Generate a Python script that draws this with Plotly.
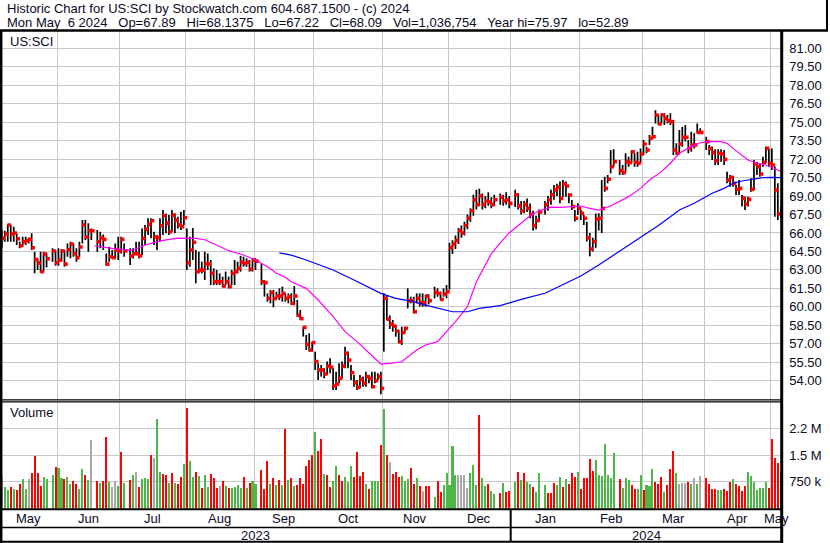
import numpy as np
import pandas as pd
import plotly.graph_objects as go

W, H = 830, 543

# trading calendar (weekday slots; holidays leave an empty slot)
START = "2023-05-05"
END = "2024-05-06"
HOLIDAYS = ["2023-05-29", "2023-06-19", "2023-07-04", "2023-09-04", "2023-11-23",
            "2023-12-25", "2024-01-01", "2024-01-15", "2024-02-19", "2024-03-29"]

HIGH = [
    66.24, 66.18, 66.70, 66.64, 66.51, 65.97, 65.29, 65.70, 65.70, 65.61,
    65.97, 64.48, 63.94, 64.48, 64.48, 64.40, 64.75, 64.61, 64.75, 64.69,
    64.61, 65.15, 65.29, 65.15, 64.75, 65.29, 67.05, 67.05, 66.78, 66.37,
    66.24, 66.10, 65.88, 64.34, 64.88, 64.61, 65.15, 65.70, 65.70, 65.15,
    64.75, 64.75, 65.29, 65.29, 66.37, 66.64, 67.19, 67.19, 66.10, 65.83,
    67.19, 67.86, 67.59, 67.45, 67.86, 67.59, 67.32, 67.73, 67.86, 66.37,
    65.70, 66.40, 64.62, 64.48, 63.67, 64.48, 64.34, 63.80, 63.13, 62.99,
    62.72, 62.45, 62.86, 62.45, 62.99, 63.80, 63.67, 64.13, 64.07, 63.94,
    63.80, 63.94, 63.94, 63.53, 62.18, 61.09, 61.37, 61.37, 61.23, 61.50,
    61.64, 61.09, 61.09, 61.10, 61.69, 60.56, 59.74, 58.39, 57.71, 57.85,
    57.17, 56.36, 55.41, 55.27, 55.00, 55.55, 55.82, 55.00, 54.73, 55.41,
    55.55, 56.76, 56.36, 55.27, 54.46, 54.06, 54.46, 54.33, 54.73, 54.46,
    54.73, 54.73, 54.60, 54.73, 61.10, 60.96, 59.30, 58.93, 58.52, 58.11,
    58.38, 58.38, 61.50, 60.82, 60.82, 61.09, 61.09, 61.09, 60.96, 61.00,
    61.63, 61.50, 61.23, 61.50, 61.77, 65.20, 65.40, 65.80, 66.40, 66.60,
    66.90, 67.50, 68.00, 69.10, 69.50, 69.60, 69.20, 69.00, 69.30, 68.90,
    69.10, 69.20, 69.10, 69.30, 69.00, 69.50, 69.20, 68.60, 68.60, 68.80,
    68.40, 67.80, 67.40, 67.90, 68.60, 69.00, 69.50, 69.90, 70.00, 70.17,
    70.30, 70.17, 69.22, 68.68, 67.86, 68.41, 67.86, 67.46, 66.90, 66.00,
    65.60, 67.59, 67.60, 70.30, 70.57, 70.71, 72.74, 72.79, 71.93, 71.52,
    72.47, 72.20, 72.74, 72.47, 72.60, 72.87, 73.55, 73.01, 73.96, 74.63,
    75.97, 75.58, 75.72, 75.72, 75.58, 75.72, 75.18, 73.28, 74.36, 74.63,
    74.77, 73.55, 74.23, 74.09, 74.90, 74.50, 73.82, 73.14, 73.01, 72.79,
    72.79, 72.79, 72.74, 70.98, 70.71, 70.63, 69.90, 70.30, 69.08, 68.95,
    68.95, 70.44, 71.93, 71.79, 71.66, 72.20, 73.01, 72.87, 72.87, 71.38,
    70.03, 68.14,
]
LOW = [
    64.75, 65.29, 65.29, 65.29, 65.29, 65.02, 64.75, 64.88, 65.02, 65.15,
    64.61, 62.72, 62.99, 62.80, 62.85, 63.20, 63.66, 63.34, 63.34, 63.66,
    63.26, 64.07, 63.94, 64.07, 63.66, 64.07, 65.15, 65.42, 64.48, 65.42,
    64.48, 64.75, 64.61, 63.34, 63.66, 63.93, 63.93, 63.80, 64.34, 64.07,
    63.39, 63.93, 64.21, 63.93, 64.21, 65.02, 65.83, 65.56, 65.02, 64.61,
    65.29, 65.83, 65.97, 65.83, 66.10, 65.97, 66.37, 66.24, 66.64, 62.99,
    63.26, 63.80, 61.91, 62.72, 62.72, 62.18, 62.99, 61.77, 61.77, 61.77,
    61.77, 61.58, 61.77, 61.50, 61.77, 61.77, 62.72, 62.86, 63.26, 63.26,
    62.86, 62.86, 62.99, 61.77, 60.83, 60.42, 60.28, 59.96, 60.61, 60.55,
    60.42, 60.42, 60.28, 60.15, 60.15, 59.20, 58.93, 57.58, 56.49, 56.36,
    56.36, 54.87, 54.06, 54.33, 54.19, 54.46, 54.60, 53.25, 53.25, 53.79,
    54.19, 55.00, 55.00, 54.06, 53.51, 53.25, 53.38, 53.51, 53.51, 53.79,
    53.38, 53.79, 54.06, 52.89, 56.36, 58.93, 58.20, 57.98, 57.57, 57.03,
    56.90, 57.84, 59.87, 60.28, 59.47, 60.28, 60.01, 60.01, 60.01, 60.20,
    60.69, 60.82, 60.55, 60.82, 60.69, 61.40, 64.30, 64.70, 65.10, 65.60,
    65.80, 66.30, 66.90, 67.40, 67.90, 68.20, 67.90, 68.00, 68.20, 68.00,
    68.20, 68.30, 68.20, 68.30, 68.00, 68.10, 67.90, 67.50, 67.60, 67.70,
    67.20, 66.20, 66.30, 66.90, 67.50, 67.80, 68.30, 68.70, 69.00, 68.41,
    68.95, 68.95, 68.41, 67.86, 66.92, 67.46, 67.05, 66.65, 65.30, 64.10,
    64.50, 64.80, 66.20, 66.00, 69.35, 70.03, 70.84, 71.38, 70.71, 70.71,
    70.98, 71.38, 71.66, 71.38, 71.38, 71.66, 72.33, 72.47, 73.14, 73.69,
    74.90, 74.77, 74.90, 74.77, 74.90, 74.77, 72.33, 72.33, 72.47, 73.01,
    73.42, 72.47, 72.60, 72.87, 74.09, 74.09, 72.74, 72.33, 71.93, 71.52,
    71.52, 71.79, 71.52, 70.03, 69.76, 69.76, 69.08, 69.08, 68.14, 67.86,
    68.14, 69.35, 69.49, 70.71, 70.57, 71.38, 71.66, 71.38, 71.11, 67.32,
    67.05, 67.22,
]
CLOSE = [
    65.56, 65.91, 66.64, 65.91, 65.99, 65.53, 64.96, 65.29, 65.37, 65.48,
    64.80, 63.85, 63.56, 62.85, 64.29, 63.90, 64.53, 63.58, 63.80, 64.53,
    63.47, 64.64, 65.10, 64.31, 63.99, 64.86, 66.64, 65.67, 66.18, 66.18,
    65.29, 65.61, 65.48, 63.47, 64.07, 63.99, 64.61, 64.53, 65.48, 64.53,
    64.13, 64.31, 64.31, 64.15, 65.56, 66.29, 66.70, 66.99, 65.67, 65.61,
    66.59, 67.40, 66.80, 66.10, 67.45, 67.02, 66.64, 66.51, 67.24, 63.58,
    64.62, 65.24, 62.86, 62.99, 62.99, 63.48, 63.48, 62.72, 62.04, 62.04,
    62.04, 61.69, 62.04, 61.64, 62.72, 62.86, 63.13, 63.61, 63.53, 63.61,
    63.05, 63.80, 63.70, 62.04, 61.96, 60.69, 61.15, 60.66, 60.88, 60.88,
    61.09, 60.69, 60.82, 60.28, 60.88, 59.31, 59.04, 58.33, 56.95, 56.49,
    57.09, 55.55, 54.87, 54.87, 54.54, 55.19, 55.09, 53.57, 53.73, 54.19,
    55.19, 56.22, 55.68, 54.65, 53.84, 53.46, 54.11, 53.79, 54.33, 54.19,
    53.51, 54.00, 54.33, 53.38, 60.69, 58.99, 58.60, 58.44, 58.03, 57.17,
    57.90, 58.25, 60.50, 60.50, 59.60, 60.69, 60.33, 60.33, 60.88, 60.50,
    61.17, 61.09, 60.60, 61.04, 61.23, 64.80, 65.10, 65.40, 66.20, 66.00,
    66.60, 67.20, 67.80, 68.70, 68.30, 69.00, 68.30, 68.60, 68.50, 68.30,
    68.70, 68.90, 68.60, 68.70, 68.40, 69.10, 68.20, 67.80, 68.30, 68.00,
    67.50, 66.60, 67.00, 67.70, 68.30, 68.70, 69.10, 69.50, 69.70, 68.81,
    69.98, 69.81, 69.08, 68.14, 67.19, 68.00, 67.59, 67.19, 65.60, 64.70,
    65.30, 67.13, 67.19, 68.00, 69.62, 70.36, 71.38, 71.79, 71.06, 70.90,
    71.79, 71.71, 72.60, 71.74, 71.66, 72.41, 73.23, 72.74, 73.69, 73.82,
    75.58, 74.85, 75.58, 75.31, 75.12, 75.04, 72.74, 72.47, 73.23, 73.77,
    73.77, 72.87, 73.14, 73.14, 74.17, 74.17, 73.42, 72.87, 72.52, 71.87,
    72.47, 72.41, 71.98, 70.30, 70.52, 70.03, 69.54, 69.62, 68.81, 68.35,
    68.73, 69.54, 71.60, 71.38, 70.79, 71.74, 72.87, 71.66, 71.52, 69.49,
    67.54, 68.09,
]

# daily volume in thousands of shares
VOLUME_K = [
    886, 606, 513, 606, 550, 513, 690, 830, 550, 830,
    998, 1474, 998, 644, 886, 821, 942, 1166, 1148, 858,
    830, 886, 690, 774, 690, 550, 1110, 942, 802, 1922,
    774, 718, 774, 2006, 746, 606, 774, 634, 1586, 718,
    802, 942, 1026, 606, 830, 858, 830, 1502, 1418, 2510,
    1026, 970, 942, 718, 998, 718, 690, 886, 1250, 2818,
    1334, 886, 1026, 914, 578, 942, 606, 970, 858, 578,
    634, 774, 634, 578, 578, 606, 662, 578, 886, 578,
    718, 774, 700, 1082, 550, 1334, 690, 858, 662, 802,
    662, 2230, 802, 858, 634, 662, 858, 690, 1194, 1362,
    1502, 2146, 1614, 1950, 970, 942, 606, 774, 1194, 942,
    774, 886, 746, 1194, 886, 1586, 914, 1026, 690, 550,
    774, 774, 774, 1782, 2790, 1502, 1306, 970, 1026, 886,
    914, 774, 830, 1138, 690, 858, 634, 494, 634, 634,
    327, 774, 467, 662, 998, 662, 1754, 942, 942, 942,
    942, 578, 998, 1222, 662, 2622, 858, 634, 690, 494,
    410, 438, 718, 467, 494, 746, 1026, 802, 998, 746,
    690, 606, 467, 998, 662, 438, 438, 718, 662, 886,
    606, 840, 690, 998, 886, 1026, 550, 858, 858, 1390,
    1054, 1372, 942, 914, 1810, 942, 858, 1558, 830, 578,
    858, 802, 662, 550, 550, 942, 522, 662, 625, 1110,
    746, 690, 886, 467, 662, 1110, 1614, 989, 690, 718,
    718, 746, 690, 858, 700, 914, 858, 690, 550, 550,
    522, 522, 550, 494, 746, 830, 690, 634, 494, 634,
    1026, 914, 746, 522, 578, 578, 746, 578, 1950, 1418,
    1278, 1037,
]
# volume bar colour per day: g up, r down, n unchanged
VOL_DIR = "".join([
    "nggrgrrggnrrrrgg",
    "grggrggrrggrgn",
    "rgrrgnngrg",
    "rgnrgggrnggrrgrgrrgrggrgrggrrrnrgrggggrgrgg",
    "rrrgrgrgrgrgrrrrrrgrrgrrggrrgggrrrrgrgggrgrnrrrgggrrgrnrr",
    "grrgggggnnnngggrggrgg",
    "rgrr",
    "grgrggrgg",
    "grrrggrgrrrgrrrrrggggggg",
    "rgggrrggrgggrrrgrrrgnnnrgngn",
    "rrrrggrrrgrrrrgggggggrrrrg",
])

# moving averages (weekday slot, value)
PINK_DAY = [31, 38, 44, 48, 53, 59, 65, 68, 72, 76, 81, 85, 89, 92, 95, 97, 102, 106,
            111, 115, 119, 124, 127, 130, 134, 139, 142, 146, 149, 152, 156, 159, 164,
            167, 170, 174, 177, 180, 184, 187, 190, 194, 197, 200, 204, 207, 210, 214,
            217, 221, 224, 227, 231, 234, 237, 241, 243, 245, 247, 250, 253, 256, 260, 261]
PINK_VAL = [64.96, 64.70, 64.60, 65.02, 65.35, 65.58, 65.56, 65.45, 65.02, 64.56, 64.21,
            63.80, 63.26, 62.72, 62.40, 62.04, 61.50, 60.55, 59.20, 57.98, 57.17, 56.08,
            55.35, 55.41, 55.54, 56.49, 56.90, 57.17, 57.98, 58.79, 60.01, 62.04, 64.30,
            65.20, 66.00, 66.80, 67.40, 67.80, 68.10, 68.08, 68.14, 68.19, 68.00, 67.86,
            68.19, 68.54, 68.95, 69.62, 70.30, 70.98, 71.66, 72.47, 73.01, 73.33, 73.42,
            73.42, 73.28, 72.87, 72.47, 71.93, 71.66, 71.52, 71.11, 70.98]
BLUE_DAY = [93, 97, 102, 111, 118, 127, 132, 138, 142, 147, 151, 156, 160, 167, 174,
            182, 187, 194, 200, 207, 214, 220, 224, 227, 232, 235, 238, 242, 245, 248,
            252, 255, 258, 261]
BLUE_VAL = [64.38, 64.20, 63.80, 62.99, 62.18, 61.09, 60.69, 60.42, 60.14, 59.87, 59.60,
            59.60, 59.87, 60.10, 60.60, 61.10, 61.70, 62.50, 63.40, 64.50, 65.60, 66.60,
            67.32, 67.86, 68.41, 68.81, 69.22, 69.62, 70.03, 70.22, 70.36, 70.49, 70.52,
            70.49]

MONTH_STARTS = ["2023-06-01", "2023-07-01", "2023-08-01", "2023-09-01", "2023-10-01",
                "2023-11-01", "2023-12-01", "2024-01-01", "2024-02-01", "2024-03-01",
                "2024-04-01", "2024-05-01"]
MONTH_NAMES = ["May", "Jun", "Jul", "Aug", "Sep", "Oct", "Nov", "Dec",
               "Jan", "Feb", "Mar", "Apr", "May"]
YEARS = ["2023", "2024"]

VOL_TICKS = [750000, 1500000, 2250000]
VOL_TICK_TEXT = ["750 k", "1.5 M", "2.2 M"]

NB = "\u00a0"
HEADER_1 = "Historic Chart for US:SCI by Stockwatch.com 604.687.1500 - (c) 2024"
HEADER_2 = (NB * 3).join(["Mon May" + NB * 2 + "6 2024", "Op=67.89", "Hi=68.1375",
                          "Lo=67.22", "Cl=68.09", "Vol=1,036,754", "Year hi=75.97",
                          "lo=52.89"])

FONT = "Liberation Sans, Arial, sans-serif"
TXT = "#0a0a1e"
GRID = "#c8c8c8"
RED = "#ff0000"
GREEN = "#4cb848"
GRAY = "#a8a8a8"

assert len(HIGH) == len(LOW) == len(CLOSE) == len(VOLUME_K) == len(VOL_DIR) == 252


def px(x):
    return x / W


def py(y):
    return 1 - y / H


weekdays = pd.bdate_range(START, END)
trading = weekdays[~weekdays.isin(pd.to_datetime(HOLIDAYS))]
slot = weekdays.get_indexer(trading)

x0, x1 = -0.6, len(weekdays) - 1 + 0.6
edges = [np.busday_count(START, np.datetime64(d) + 1) - 1.5 for d in MONTH_STARTS]
bounds = [x0] + edges + [x1]
month_mid = [(a + b) / 2 for a, b in zip(bounds[:-1], bounds[1:])]
jan_edge = edges[MONTH_STARTS.index("2024-01-01")]
year_mid = [(x0 + jan_edge) / 2, (jan_edge + x1) / 2]

# high-low bars as one broken line
bar_x, bar_y = [], []
for s, hi, lo in zip(slot, HIGH, LOW):
    bar_x += [s, s, None]
    bar_y += [lo, hi, None]

vol_colors = [{"g": GREEN, "r": RED, "n": GRAY}[c] for c in VOL_DIR]
vol = [v * 1000 for v in VOLUME_K]

fig = go.Figure()

fig.add_trace(go.Scatter(
    x=bar_x, y=bar_y, mode="lines",
    line=dict(color="black", width=1.7),
    hoverinfo="skip", showlegend=False
))
fig.add_trace(go.Scatter(
    x=slot + 0.5, y=CLOSE, mode="markers",
    marker=dict(symbol="square", size=3.6, color=RED, line=dict(width=0)),
    showlegend=False
))
fig.add_trace(go.Scatter(
    x=PINK_DAY, y=PINK_VAL, mode="lines",
    line=dict(color="#ff00ff", width=1.2), showlegend=False
))
fig.add_trace(go.Scatter(
    x=BLUE_DAY, y=BLUE_VAL, mode="lines",
    line=dict(color="#0000ff", width=1.2), showlegend=False
))
fig.add_trace(go.Bar(
    x=slot, y=vol, width=0.68,
    marker=dict(color=vol_colors, line=dict(width=0)),
    xaxis="x2", yaxis="y2", showlegend=False
))

x_dom = [0, px(782.6)]
axis_font = dict(family=FONT, size=13, color=TXT)

fig.update_layout(
    width=W, height=H,
    margin=dict(l=0, r=0, t=0, b=0),
    paper_bgcolor="white",
    plot_bgcolor="white",
    bargap=0,
    xaxis=dict(
        domain=x_dom, range=[x0, x1], anchor="y",
        tickvals=edges, showticklabels=False, ticks="",
        showgrid=True, gridcolor=GRID, gridwidth=1.2,
        zeroline=False, showline=False
    ),
    yaxis=dict(
        domain=[py(400), py(31)], range=[52.43, 82.405], side="right",
        tickvals=list(np.arange(54, 81.01, 1.5)),
        ticktext=[f"{v:.2f}" for v in np.arange(54, 81.01, 1.5)],
        ticks="outside", ticklen=3, tickcolor="rgba(0,0,0,0)",
        showgrid=True, gridcolor=GRID, gridwidth=1.2,
        zeroline=False, showline=False, tickfont=axis_font
    ),
    xaxis2=dict(
        domain=x_dom, range=[x0, x1], anchor="y2", matches="x",
        tickvals=edges, showticklabels=False, ticks="",
        showgrid=True, gridcolor=GRID, gridwidth=1.2,
        zeroline=False, showline=False
    ),
    yaxis2=dict(
        domain=[py(508.5), py(402)], range=[0, 3.0e6], side="right",
        tickvals=VOL_TICKS, ticktext=VOL_TICK_TEXT,
        ticks="outside", ticklen=3, tickcolor="rgba(0,0,0,0)",
        showgrid=True, gridcolor=GRID, gridwidth=1.2,
        zeroline=False, showline=False, tickfont=axis_font
    ),
)

text_font = dict(family=FONT, size=13, color=TXT)
notes = [
    dict(x=px(5), y=py(8.5), text=HEADER_1),
    dict(x=px(5), y=py(22), text=HEADER_2),
    dict(x=px(8), y=py(41), text="US:SCI"),
    dict(x=px(8), y=py(413), text="Volume"),
]
for n in notes:
    fig.add_annotation(xref="paper", yref="paper", xanchor="left", yanchor="middle",
                       showarrow=False, font=text_font, **n)

for m, name in zip(month_mid, MONTH_NAMES):
    fig.add_annotation(xref="x", yref="paper", x=m, y=py(518), text=name,
                       xanchor="center", yanchor="middle", showarrow=False, font=text_font)
for m, name in zip(year_mid, YEARS):
    fig.add_annotation(xref="x", yref="paper", x=m, y=py(535), text=name,
                       xanchor="center", yanchor="middle", showarrow=False, font=text_font)

# frame lines
frame = [
    (0, 30.5, 828, 30.5, 2.5),
    (827, 0, 827, 31, 2),
    (1.2, 30, 1.2, 543, 2.5),
    (781.7, 30, 781.7, 543, 3),
    (0, 399.9, 782, 399.9, 1.3),
    (0, 401.9, 782, 401.9, 1.3),
    (0, 509.2, 782, 509.2, 2),
    (0, 527.5, 782, 527.5, 1.5),
    (0, 541.8, 782, 541.8, 2),
]
for xa, ya, xb, yb, w in frame:
    fig.add_shape(type="line", xref="paper", yref="paper",
                  x0=px(xa), y0=py(ya), x1=px(xb), y1=py(yb),
                  line=dict(color="black", width=w), layer="above")
fig.add_shape(type="line", xref="x", yref="paper",
              x0=jan_edge, x1=jan_edge, y0=py(509), y1=py(542),
              line=dict(color="black", width=2), layer="above")

fig.write_html("out.html", config={"displayModeBar": False},
               post_script="document.body.style.margin='0';document.body.style.padding='0';")
